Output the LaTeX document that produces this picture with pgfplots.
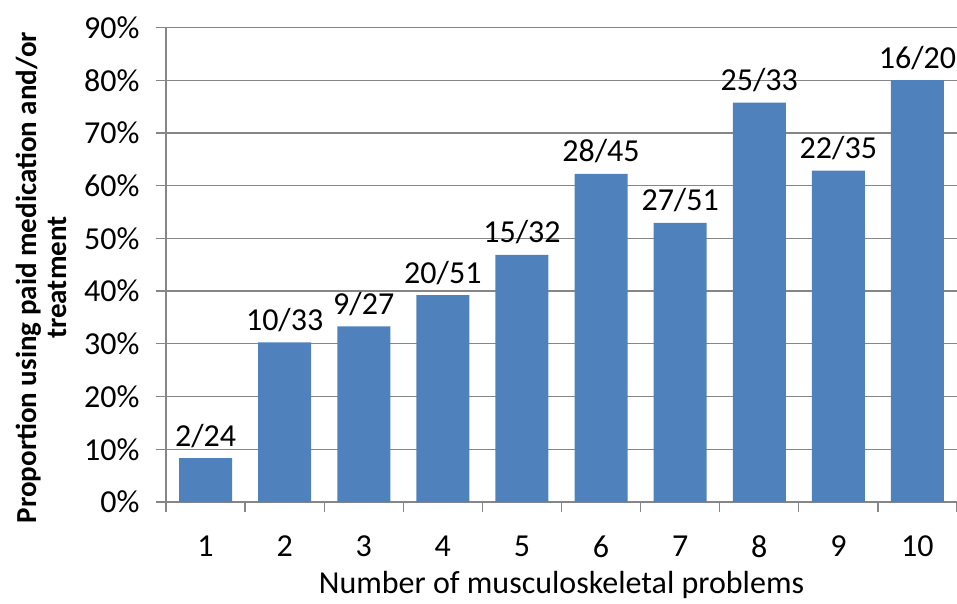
\documentclass[border=0pt]{standalone}
\usepackage{pgfplots}
\pgfplotsset{compat=1.18}
\usepackage{fontspec}
\setmainfont{Carlito}
\definecolor{barblue}{HTML}{4F81BD}
\definecolor{gridgray}{HTML}{868686}
\begin{document}
\begin{tikzpicture}
\begin{axis}[
  scale only axis, width=791pt, height=474.5pt,
  xmin=0.5, xmax=10.5, ymin=0, ymax=90,
  ybar, bar width=53pt,
  axis x line*=bottom, axis y line*=left,
  axis line style={gridgray, line width=1.3pt},
  xtick={1,...,10},
  major x tick style={draw=none},
  minor xtick={0.5,1.5,...,10.5},
  minor x tick style={gridgray, line width=1.3pt},
  minor tick length=10pt,
  ytick={0,10,...,90},
  major y tick style={gridgray, line width=1.3pt},
  major tick length=10pt,
  tick align=outside,
  ymajorgrids,
  grid style={gridgray, line width=1.3pt},
  /pgf/number format/assume math mode=true,
  yticklabel={\pgfmathprintnumber{\tick}\%},
  ticklabel style={font=\fontsize{32}{38}\selectfont, text=black},
  yticklabel style={xshift=-13pt},
  xticklabel style={yshift=-20pt},
  xlabel={Number of musculoskeletal problems},
  xlabel style={font=\fontsize{32}{38}\selectfont, at={(axis description cs:0.5,0)}, anchor=center, yshift=-83pt},
  ylabel={Proportion using paid medication and/or\\treatment},
  ylabel style={font=\fontsize{29}{30}\selectfont\bfseries, align=center, at={(axis description cs:-0.158,0.473)}, anchor=center},
  point meta=explicit symbolic,
  nodes near coords,
  nodes near coords style={font=\fontsize{32}{38}\selectfont, text=black, anchor=base, yshift=12pt},
]
\addplot[fill=barblue, draw=none] coordinates {
  (1,8.33) [2/24]
  (2,30.30) [10/33]
  (3,33.33) [9/27]
  (4,39.22) [20/51]
  (5,46.88) [15/32]
  (6,62.22) [28/45]
  (7,52.94) [27/51]
  (8,75.76) [25/33]
  (9,62.86) [22/35]
  (10,80.00) [16/20]
};
\end{axis}
\pgfresetboundingbox
\path[use as bounding box] (-166pt,-101pt) rectangle (791pt,502pt);
\end{tikzpicture}
\end{document}
